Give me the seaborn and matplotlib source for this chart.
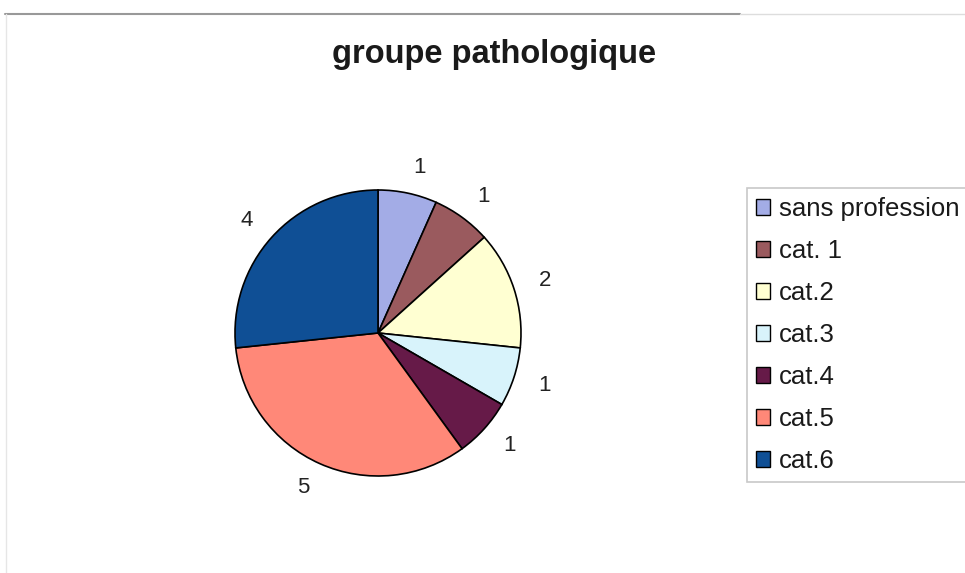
import matplotlib.pyplot as plt
import seaborn as sns
from matplotlib.patches import Patch
from matplotlib.lines import Line2D

sns.set_theme(style="white")
plt.rcParams['font.family'] = ['Liberation Sans', 'DejaVu Sans']

# data
categories = ['sans profession', 'cat. 1', 'cat.2', 'cat.3', 'cat.4', 'cat.5', 'cat.6']
counts = [1, 1, 2, 1, 1, 5, 4]
colors = ['#A3ACE6', '#9A5A5E', '#FFFFD2', '#D8F3FB', '#661A48', '#FF8878', '#0F4F95']

fig = plt.figure(figsize=(9.65, 5.73), dpi=100)
fig.patch.set_facecolor('white')

# pie axes: centre ~ (378, 333) px, radius ~143 px
cx, cy, r = 378 / 965, 1 - 333 / 573, 143
ax = fig.add_axes([cx - r / 965, cy - r / 573, 2 * r / 965, 2 * r / 573])
wedges, texts = ax.pie(counts, labels=[str(c) for c in counts], colors=colors,
                       startangle=90, counterclock=False, labeldistance=1.18,
                       wedgeprops=dict(edgecolor='black', linewidth=1.2),
                       textprops=dict(fontsize=16, color='#222222'))
ax.set_xlim(-1, 1)
ax.set_ylim(-1, 1)
ax.axis('off')

fig.text(494 / 965, 1 - 55 / 573, 'groupe pathologique', ha='center', va='center',
         fontsize=23.5, fontweight='bold', color='#1a1a1a')

handles = [Patch(facecolor=c, edgecolor='black', linewidth=1.0) for c in colors]
leg = fig.legend(handles, categories, loc='upper left',
                 bbox_to_anchor=(747 / 965, 1 - 188 / 573),
                 fontsize=18.5, frameon=True, fancybox=False,
                 handlelength=0.55, handleheight=0.55, handletextpad=0.35,
                 labelspacing=0.7, borderpad=0.35, borderaxespad=0)
leg.get_frame().set_edgecolor('#bbbbbb')
leg.get_frame().set_linewidth(1.2)
for t in leg.get_texts():
    t.set_color('#1a1a1a')

# scanned page border lines
fig.add_artist(Line2D([5 / 965, 740 / 965], [1 - 14 / 573] * 2, color='#999999', lw=1.5))
fig.add_artist(Line2D([740 / 965, 965 / 965], [1 - 14 / 573] * 2, color='#dddddd', lw=1.0))
fig.add_artist(Line2D([6 / 965] * 2, [1 - 14 / 573, 0], color='#e6e6e6', lw=1.0))

fig.savefig('out.png', dpi=100, facecolor='white')
